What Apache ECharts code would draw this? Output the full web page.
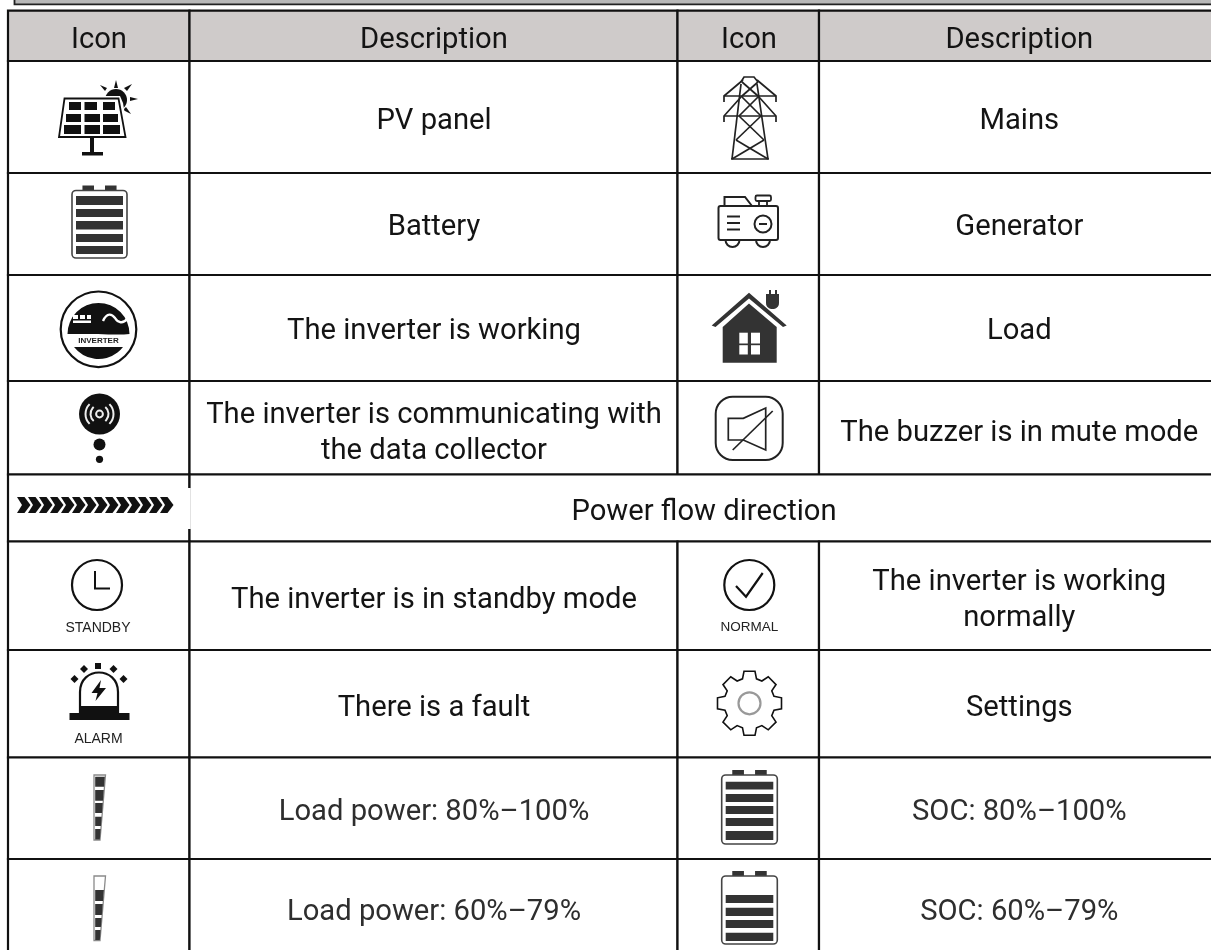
<!DOCTYPE html>
<html>
<head>
<meta charset="utf-8">
<style>html,body{margin:0;padding:0;background:#fff}#c{width:1211px;height:950px}</style>
<script src="https://cdn.jsdelivr.net/npm/echarts@6/dist/echarts.min.js"></script>
</head>
<body>
<div id="c"></div>
<script>
// ---- table content ----
const headerLabels = ['Icon', 'Description', 'Icon', 'Description'];
const leftIcons = ['pv', 'battery', 'inverter', 'comm', 'arrows', 'standby', 'alarm', 'load100', 'load79'];
const leftDescriptions = ['PV panel', 'Battery', 'The inverter is working',
  'The inverter is communicating with\nthe data collector', 'Power flow direction',
  'The inverter is in standby mode', 'There is a fault', 'Load power: 80%\u2013100%', 'Load power: 60%\u201379%'];
const rightIcons = ['tower', 'generator', 'house', 'mute', null, 'normal', 'gear', 'soc100', 'soc79'];
const rightDescriptions = ['Mains', 'Generator', 'Load', 'The buzzer is in mute mode', null,
  'The inverter is working\nnormally', 'Settings', 'SOC: 80%\u2013100%', 'SOC: 60%\u201379%'];

// ---- table geometry (px) ----
const colEdges = [8, 189.5, 677.5, 819, 1216];
const rowEdges = [10.7, 61, 173, 275, 381, 474.5, 541.5, 650, 757.5, 859, 960];
const headerTextY = 40.7;
const rowTextY = [122, 228, 332, 433.5, 513, 600.7, 709, 813, 913];
const iconCenters = [99, 749];
const textCenters = [434, 1019.3];
const spanCenter = 704;

const INK = '#111';
const DARK = '#333';
const FONT = 'Roboto, sans-serif';
const SMALL = '"Liberation Sans", Arial, sans-serif';
const FILL_HEADER = '#cfcbca';
const TEXT_SIZE = 29.2;

function poly(pts, fill, stroke, lw) {
  return { type: 'polygon', shape: { points: pts }, style: { fill: fill || 'none', stroke: stroke || 'none', lineWidth: lw || 0, lineJoin: 'miter' } };
}
function line(pts, stroke, lw) {
  return { type: 'polyline', shape: { points: pts }, style: { fill: 'none', stroke: stroke || INK, lineWidth: lw || 2 } };
}
function rect(x0, y0, x1, y1, fill, stroke, lw, r) {
  return { type: 'rect', shape: { x: x0, y: y0, width: x1 - x0, height: y1 - y0, r: r || 0 }, style: { fill: fill || 'none', stroke: stroke || 'none', lineWidth: lw || 0 } };
}
function circle(cx, cy, r, fill, stroke, lw) {
  return { type: 'circle', shape: { cx, cy, r }, style: { fill: fill || 'none', stroke: stroke || 'none', lineWidth: lw || 0 } };
}
function arc(cx, cy, r, a0, a1, stroke, lw) {
  return { type: 'arc', shape: { cx, cy, r, startAngle: a0 * Math.PI / 180, endAngle: a1 * Math.PI / 180, clockwise: true }, style: { fill: 'none', stroke, lineWidth: lw } };
}
function path(d, fill, stroke, lw) {
  return { type: 'path', shape: { pathData: d }, style: { fill: fill || 'none', stroke: stroke || 'none', lineWidth: lw || 0 } };
}
function label(text, x, y, font, fill) {
  return { type: 'text', style: { text, x, y, font, fill: fill || INK, textAlign: 'center', textVerticalAlign: 'middle' } };
}

function batteryIcon(x0, x1, y0, y1, bars) {
  const out = [];
  const w = x1 - x0;
  [[0.19, 0.4], [0.6, 0.81]].forEach(t => out.push(rect(x0 + w * t[0], y0 - 5, x0 + w * t[1], y0 + 0.5, DARK)));
  out.push(rect(x0, y0, x1, y1, '#fff', '#444', 1.6, 4));
  bars.forEach(b => out.push(rect(x0 + 4, b[0], x1 - 4, b[1], DARK)));
  return out;
}
function loadIcon(yTop, yBot, segs) {
  const out = [poly([[94, yTop], [105.5, yTop], [100, yBot], [94, yBot]], '#fff', '#8a8a8a', 1.3)];
  segs.forEach(s => {
    const xr = y => 105 - (y - yTop) / (yBot - yTop) * 5.2;
    out.push(poly([[95.2, s[0]], [xr(s[0]), s[0]], [xr(s[1]), s[1]], [95.2, s[1]]], DARK));
  });
  return out;
}

const chevronCount = 14;
const iconBuilders = {
  pv() {
    const cells = [
      [102, 110, [[69, 81], [84.5, 97], [103, 115]]],
      [114, 122, [[66, 81], [84.5, 100], [103, 118]]],
      [125, 134, [[64, 81], [84.5, 100], [103, 120]]]
    ];
    const out = [
      poly([[116, 80], [118, 88], [114, 88]], INK),
      poly([[100, 85], [107, 88], [105, 91]], INK),
      poly([[132, 84], [127, 91], [124, 88]], INK),
      poly([[138, 99], [130, 101], [130, 97]], INK),
      poly([[131, 114], [123, 110], [126, 107]], INK),
      circle(116, 100, 11, INK),
      poly([[62, 96], [120, 96], [123, 103], [129, 139], [56, 139]], '#fff'),
      poly([[64.5, 98.5], [118.5, 98.5], [125.5, 137], [59, 137]], '#fff', INK, 1.8)
    ];
    cells.forEach(r => r[2].forEach(c => out.push(rect(c[0], r[0], c[1], r[1], INK))));
    out.push(rect(90, 138, 94, 152, INK), rect(82, 152, 103, 155.5, INK));
    return out;
  },
  battery: () => batteryIcon(72, 127, 190.5, 258, [[196, 205], [209, 217], [221, 229.5], [234, 242], [246, 254]]),
  inverter() {
    return [
      circle(98.5, 329.3, 37.8, '#fff', INK, 2.2),
      path('M67.5,334 A31,31 0 1 1 129.5,334 Q120,335 98,334 Z', INK),
      path('M74,347 A31,31 0 0 0 123,347 Z', INK),
      rect(73, 315, 78, 319, '#fff'), rect(80, 315, 85, 319, '#fff'), rect(87, 315, 91, 319, '#fff'),
      rect(73, 320.5, 91, 323, '#fff'),
      path('M103,321 C107,312 112,314 115,318 C118,323 123,324 127,319', 'none', '#fff', 2.4),
      label('INVERTER', 98.5, 340.5, 'bold 8px ' + SMALL, '#222')
    ];
  },
  comm() {
    return [
      circle(99.5, 414, 20.5, INK),
      circle(99.5, 414, 3.4, 'none', '#eee', 2),
      arc(99.5, 414, 9, -50, 50, '#eee', 2), arc(99.5, 414, 9, 130, 230, '#eee', 2),
      arc(99.5, 414, 14, -45, 45, '#eee', 2), arc(99.5, 414, 14, 135, 225, '#eee', 2),
      circle(99.5, 444.5, 6, INK),
      circle(99.5, 459.3, 3.6, INK)
    ];
  },
  arrows() {
    const out = [];
    for (let i = 0; i < chevronCount; i++) {
      const x = 17 + i * 11, y = 505;
      out.push(poly([[x, y - 8], [x + 7.5, y - 8], [x + 13.5, y], [x + 7.5, y + 8], [x, y + 8], [x + 5, y]], INK));
    }
    return out;
  },
  standby() {
    return [
      circle(97, 585, 25, 'none', INK, 2.2),
      line([[95, 571], [95, 588.5], [110, 588.5]], INK, 2),
      label('STANDBY', 98, 628, '14px ' + SMALL, '#222')
    ];
  },
  alarm() {
    return [
      path('M80,713 V692 C80,666 118,666 118,692 V713', '#fff', INK, 2.2),
      rect(79, 706, 119, 714, INK),
      rect(69.5, 713, 129.5, 720, INK),
      poly([[101, 680], [91.5, 693], [97.5, 693], [95.5, 701], [106, 688], [99.5, 688]], INK),
      rect(95, 663, 101, 669, INK),
      poly([[84, 665], [88, 669], [84, 673], [80, 669]], INK),
      poly([[113.5, 665], [117.5, 669], [113.5, 673], [109.5, 669]], INK),
      poly([[74.5, 675], [78.5, 679], [74.5, 683], [70.5, 679]], INK),
      poly([[123.5, 675], [127.5, 679], [123.5, 683], [119.5, 679]], INK),
      label('ALARM', 98.5, 739, '14px ' + SMALL, '#222')
    ];
  },
  load100: () => loadIcon(775, 840, [[776.7, 786.7], [790, 800.7], [803, 813], [816.7, 826], [829, 839.5]]),
  load79: () => loadIcon(876, 940.5, [[890, 901], [904, 915], [918, 927], [930, 940]]),
  tower() {
    const segs = [
      [[731, 159], [769, 159]], [[741, 84], [732, 159]], [[757, 84], [768, 159]],
      [[741, 82], [744, 77], [754, 77], [758, 82]],
      [[724, 102], [724, 96], [743, 80]], [[776, 102], [776, 96], [757, 80]], [[724, 96], [776, 96]],
      [[724, 122], [724, 116], [741, 97]], [[776, 122], [776, 116], [759, 97]], [[724, 116], [776, 116]],
      [[742, 82], [758, 96]], [[758, 82], [742, 96]],
      [[741, 96], [761, 116]], [[759, 96], [739, 116]],
      [[739, 116], [764, 140]], [[761, 116], [736, 140]],
      [[736, 140], [768, 159]], [[764, 140], [732, 159]]
    ];
    return segs.map(s => line(s, '#222', 1.7));
  },
  generator() {
    return [
      arc(732.5, 240, 7, 0, 180, '#222', 2), arc(763, 240, 7, 0, 180, '#222', 2),
      rect(718.5, 206, 778, 240, 'none', '#222', 2, 2),
      line([[724.5, 206], [724.5, 197], [745, 197], [752, 206]], '#222', 2),
      rect(755.5, 195.5, 771, 201, 'none', '#222', 1.8, 1.5),
      rect(759, 201, 767, 206, 'none', '#222', 1.8),
      line([[727, 216.5], [740, 216.5]], '#222', 2),
      line([[727, 223], [740, 223]], '#222', 2),
      line([[727, 229.5], [740, 229.5]], '#222', 2),
      circle(763, 224, 8.5, 'none', '#222', 2),
      line([[759, 224], [767, 224]], '#222', 2)
    ];
  },
  house() {
    return [
      poly([[722.7, 327], [749, 303.5], [776.7, 327], [776.7, 362.7], [722.7, 362.7]], DARK),
      rect(739.3, 332.7, 747.8, 343.5, '#fff'), rect(751, 332.7, 760, 343.5, '#fff'),
      rect(739.3, 345.2, 747.8, 354.5, '#fff'), rect(751, 345.2, 760, 354.5, '#fff'),
      poly([[711.7, 325.5], [749, 292.7], [786.7, 325.5], [783, 327], [749, 298.5], [715.5, 327]], DARK),
      path('M766,294 H779 V303 C779,311 766,311 766,303 Z', DARK),
      rect(769, 290, 771, 295, DARK), rect(775, 290, 777, 295, DARK)
    ];
  },
  mute() {
    return [
      rect(715.7, 396.7, 782.7, 460, 'none', '#222', 2, 17),
      poly([[728.3, 418.3], [743.3, 418.3], [765.7, 408], [765.7, 450], [743.3, 440], [728.3, 440]], 'none', '#222', 1.7),
      line([[732.7, 450], [772.7, 411]], '#222', 1.7)
    ];
  },
  normal() {
    return [
      circle(749.3, 585, 25, 'none', INK, 2.2),
      line([[736, 586], [746, 596.7], [762.7, 573]], INK, 2.2),
      label('NORMAL', 749.5, 627, '13.5px ' + SMALL, '#222')
    ];
  },
  gear() {
    const cx = 749.5, cy = 703.3, rOut = 32, rRoot = 24.5, hw = 5.5;
    const pts = [];
    for (let k = 0; k < 8; k++) {
      const a = k * Math.PI / 4;
      const c = Math.cos(a), s = Math.sin(a);
      const at = (along, across) => [cx + along * c - across * s, cy + along * s + across * c];
      pts.push(at(rRoot, -hw - 1.5), at(rOut, -hw), at(rOut, hw), at(rRoot, hw + 1.5));
    }
    return [poly(pts, '#fff', INK, 1.6), circle(cx, cy, 11, 'none', '#999', 2.2)];
  },
  soc100: () => batteryIcon(721.7, 777.3, 775, 844, [[781.7, 789.6], [794, 802], [806, 814], [818, 826], [831, 840]]),
  soc79: () => batteryIcon(721.7, 777.3, 876, 944, [[895, 903], [907.7, 916], [920, 928], [932.7, 941]])
};

// ---- build cells ----
const cells = [];
headerLabels.forEach((t, c) => cells.push({
  x0: colEdges[c], x1: colEdges[c + 1], y0: rowEdges[0], y1: rowEdges[1], fill: FILL_HEADER,
  text: t, tx: c % 2 ? textCenters[(c - 1) / 2] : iconCenters[c / 2], ty: headerTextY
}));
leftIcons.forEach((ic, r) => {
  const y0 = rowEdges[r + 1], y1 = rowEdges[r + 2], ty = rowTextY[r];
  const color = r >= 7 ? '#2e2e2e' : '#141414';
  cells.push({ x0: colEdges[0], x1: colEdges[1], y0, y1, icon: ic });
  if (rightIcons[r]) {
    cells.push({ x0: colEdges[1], x1: colEdges[2], y0, y1, text: leftDescriptions[r], tx: textCenters[0], ty, color });
    cells.push({ x0: colEdges[2], x1: colEdges[3], y0, y1, icon: rightIcons[r] });
    cells.push({ x0: colEdges[3], x1: colEdges[4], y0, y1, text: rightDescriptions[r], tx: textCenters[1], ty, color });
  } else {
    cells.push({ x0: colEdges[1], x1: colEdges[4], y0, y1, text: leftDescriptions[r], tx: spanCenter, ty, color });
  }
});
// decorations: the frame remnant at the top, the white notch beside the arrows
const decorations = [
  { x0: 14.5, x1: 1225, y0: -8, y1: 4.3, fill: '#b8b8b8', stroke: '#222', lw: 1.8 },
  { x0: 188, x1: 190.8, y0: 488, y1: 529, fill: '#fff', stroke: 'none', lw: 0 }
];

const chart = echarts.init(document.getElementById('c'), null, { renderer: 'canvas' });
chart.setOption({
  animation: false,
  backgroundColor: '#fff',
  grid: { left: 0, right: 0, top: 0, bottom: 0, containLabel: false },
  xAxis: { type: 'value', min: 0, max: 1211, show: false },
  yAxis: { type: 'value', min: 0, max: 950, inverse: true, show: false },
  series: [
    {
      type: 'custom', coordinateSystem: 'cartesian2d', silent: true, clip: false, z: 2,
      data: cells.map((c, i) => [c.x0, c.y0, c.x1, c.y1, i]),
      encode: { x: [0, 2], y: [1, 3] },
      renderItem(params, api) {
        const c = cells[api.value(4)];
        const a = api.coord([api.value(0), api.value(1)]);
        const b = api.coord([api.value(2), api.value(3)]);
        return { type: 'rect', shape: { x: a[0], y: a[1], width: b[0] - a[0], height: b[1] - a[1] }, style: { fill: c.fill || '#fff', stroke: INK, lineWidth: 2.2 } };
      }
    },
    {
      type: 'custom', coordinateSystem: 'cartesian2d', silent: true, clip: false, z: 3,
      data: cells.map((c, i) => [c.x0, c.y0, i]),
      encode: { x: 0, y: 1 },
      renderItem(params, api) {
        const c = cells[api.value(2)];
        const kids = [];
        if (c.text) {
          const p = api.coord([c.tx, c.ty]);
          kids.push({ type: 'text', style: { text: c.text, x: p[0], y: p[1], font: TEXT_SIZE + 'px ' + FONT, fill: c.color || '#141414', textAlign: 'center', textVerticalAlign: 'middle', lineHeight: 35.6 } });
        }
        if (c.icon) {
          const o = api.coord([0, 0]);
          kids.push({ type: 'group', x: o[0], y: o[1], children: iconBuilders[c.icon]() });
        }
        return { type: 'group', children: kids };
      }
    },
    {
      type: 'custom', coordinateSystem: 'cartesian2d', silent: true, clip: false, z: 4,
      data: decorations.map((d, i) => [d.x0, d.y0, d.x1, d.y1, i]),
      encode: { x: [0, 2], y: [1, 3] },
      renderItem(params, api) {
        const d = decorations[api.value(4)];
        const a = api.coord([api.value(0), api.value(1)]);
        const b = api.coord([api.value(2), api.value(3)]);
        return { type: 'rect', shape: { x: a[0], y: a[1], width: b[0] - a[0], height: b[1] - a[1] }, style: { fill: d.fill, stroke: d.stroke, lineWidth: d.lw } };
      }
    }
  ]
});
</script>
</body>
</html>
